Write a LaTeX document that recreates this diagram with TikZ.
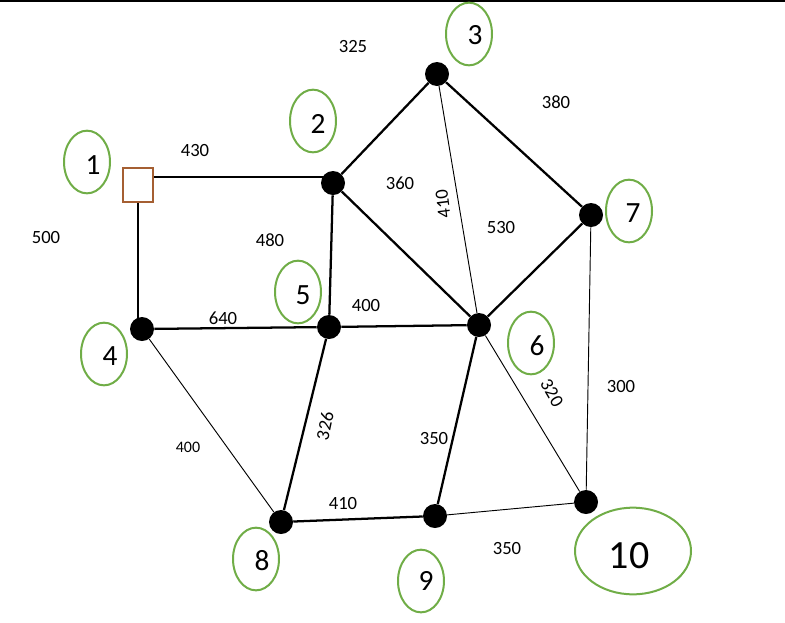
\documentclass[tikz,border=0pt]{standalone}
\usepackage{fontspec}
\setmainfont{Carlito}
\usetikzlibrary{shapes.geometric}
\definecolor{ogreen}{RGB}{112,173,71}
\definecolor{obrown}{RGB}{165,95,50}
\begin{document}
\begin{tikzpicture}[x=0.75pt,y=-0.75pt,
  dot/.style={circle,fill=black,inner sep=0pt,minimum size=18pt},
  sq/.style={rectangle,draw=obrown,line width=1.8pt,fill=white,inner sep=0pt,minimum width=22.5pt,minimum height=25.5pt},
  oval/.style={ellipse,draw=ogreen,line width=1.5pt,inner sep=0pt,minimum width=34.5pt,minimum height=47pt},
  bigoval/.style={ellipse,draw=ogreen,line width=1.5pt,inner sep=0pt,minimum width=87pt,minimum height=65pt},
  num/.style={inner sep=0pt,font=\fontsize{22}{22}\selectfont},
  bignum/.style={inner sep=0pt,font=\fontsize{30}{30}\selectfont},
  lab/.style={inner sep=0pt,font=\fontsize{14}{14}\selectfont},
  smalllab/.style={inner sep=0pt,font=\fontsize{12}{12}\selectfont},
  thick edge/.style={line width=1.7pt},
  thin edge/.style={line width=0.7pt}]
\useasboundingbox (0,0) rectangle (785,622);
\draw[line width=1.5pt] (0,1) -- (785,1);

% graph vertices
\node[sq]  (n1)  at (138,185) {};
\node[dot] (n2)  at (333,183) {};
\node[dot] (n3)  at (437,74) {};
\node[dot] (n4)  at (142,329) {};
\node[dot] (n5)  at (329,327) {};
\node[dot] (n6)  at (479,325) {};
\node[dot] (n7)  at (591,215) {};
\node[dot] (n8)  at (281,522) {};
\node[dot] (n9)  at (435,516) {};
\node[dot] (n10) at (586,502) {};

% edges
\draw[thick edge] ([yshift=6pt]n1.east) -- ([yshift=6pt]n1.east -| n2);
\draw[thick edge] (n1.south) -- (n1.south |- n4);
\draw[thick edge] (n2) -- (n3);
\draw[thick edge] (n2) -- (n5);
\draw[thick edge] (n2) -- (n6);
\draw[thick edge] (n3) -- (n7);
\draw[thick edge] (n7) -- (n6);
\draw[thick edge] (n4) -- (n5);
\draw[thick edge] (n5) -- (n6);
\draw[thick edge] (n5) -- (n8);
\draw[thick edge] (n8) -- (n9);
\draw[thick edge] (n6) -- (n9);
\draw[thin edge] (n3) -- (n6);
\draw[thin edge] (n4) -- (n8);
\draw[thin edge] (n6) -- (n10);
\draw[thin edge] (n7) -- (n10);
\draw[thin edge] (n9) -- (n10);

% vertex number ovals
\node[oval] (e1) at (87,162) {};
\node[num]  (t1) at (93,165) {1};
\node[oval] (e2) at (313,121) {};
\node[num]  (t2) at (318,124) {2};
\node[oval] (e3) at (469,34) {};
\node[num]  (t3) at (475,35) {3};
\node[oval] (e4) at (104,354) {};
\node[num]  (t4) at (110,356) {4};
\node[oval] (e5) at (298,292) {};
\node[num]  (t5) at (303,295) {5};
\node[oval] (e6) at (531,343) {};
\node[num]  (t6) at (537,346) {6};
\node[oval] (e7) at (629,211) {};
\node[num]  (t7) at (633,213) {7};
\node[oval] (e8) at (256,559) {};
\node[num]  (t8) at (262,561) {8};
\node[oval] (e9) at (421,581) {};
\node[num]  (t9) at (426,581) {9};
\node[bigoval] (e10) at (633,551) {};
\node[bignum]  (t10) at (629,556) {10};

% edge weights
\node[lab] (w325) at (353,47) {325};
\node[lab] (w380) at (556,102) {380};
\node[lab] (w430) at (195,151) {430};
\node[lab] (w360) at (400,183) {360};
\node[lab,rotate=97] (w410a) at (443,204) {410};
\node[lab] (w530) at (501,228) {530};
\node[lab] (w500) at (46,238) {500};
\node[lab] (w480) at (270,240) {480};
\node[lab] (w400a) at (366,305) {400};
\node[lab] (w640) at (223,318) {640};
\node[lab,rotate=78] (w326) at (325,426) {326};
\node[smalllab] (w400b) at (188,447) {400};
\node[lab] (w350a) at (434,438) {350};
\node[lab,rotate=-60] (w320) at (552,393) {320};
\node[lab] (w300) at (621,386) {300};
\node[lab] (w410b) at (343,503) {410};
\node[lab] (w350b) at (507,548) {350};
\end{tikzpicture}
\end{document}
